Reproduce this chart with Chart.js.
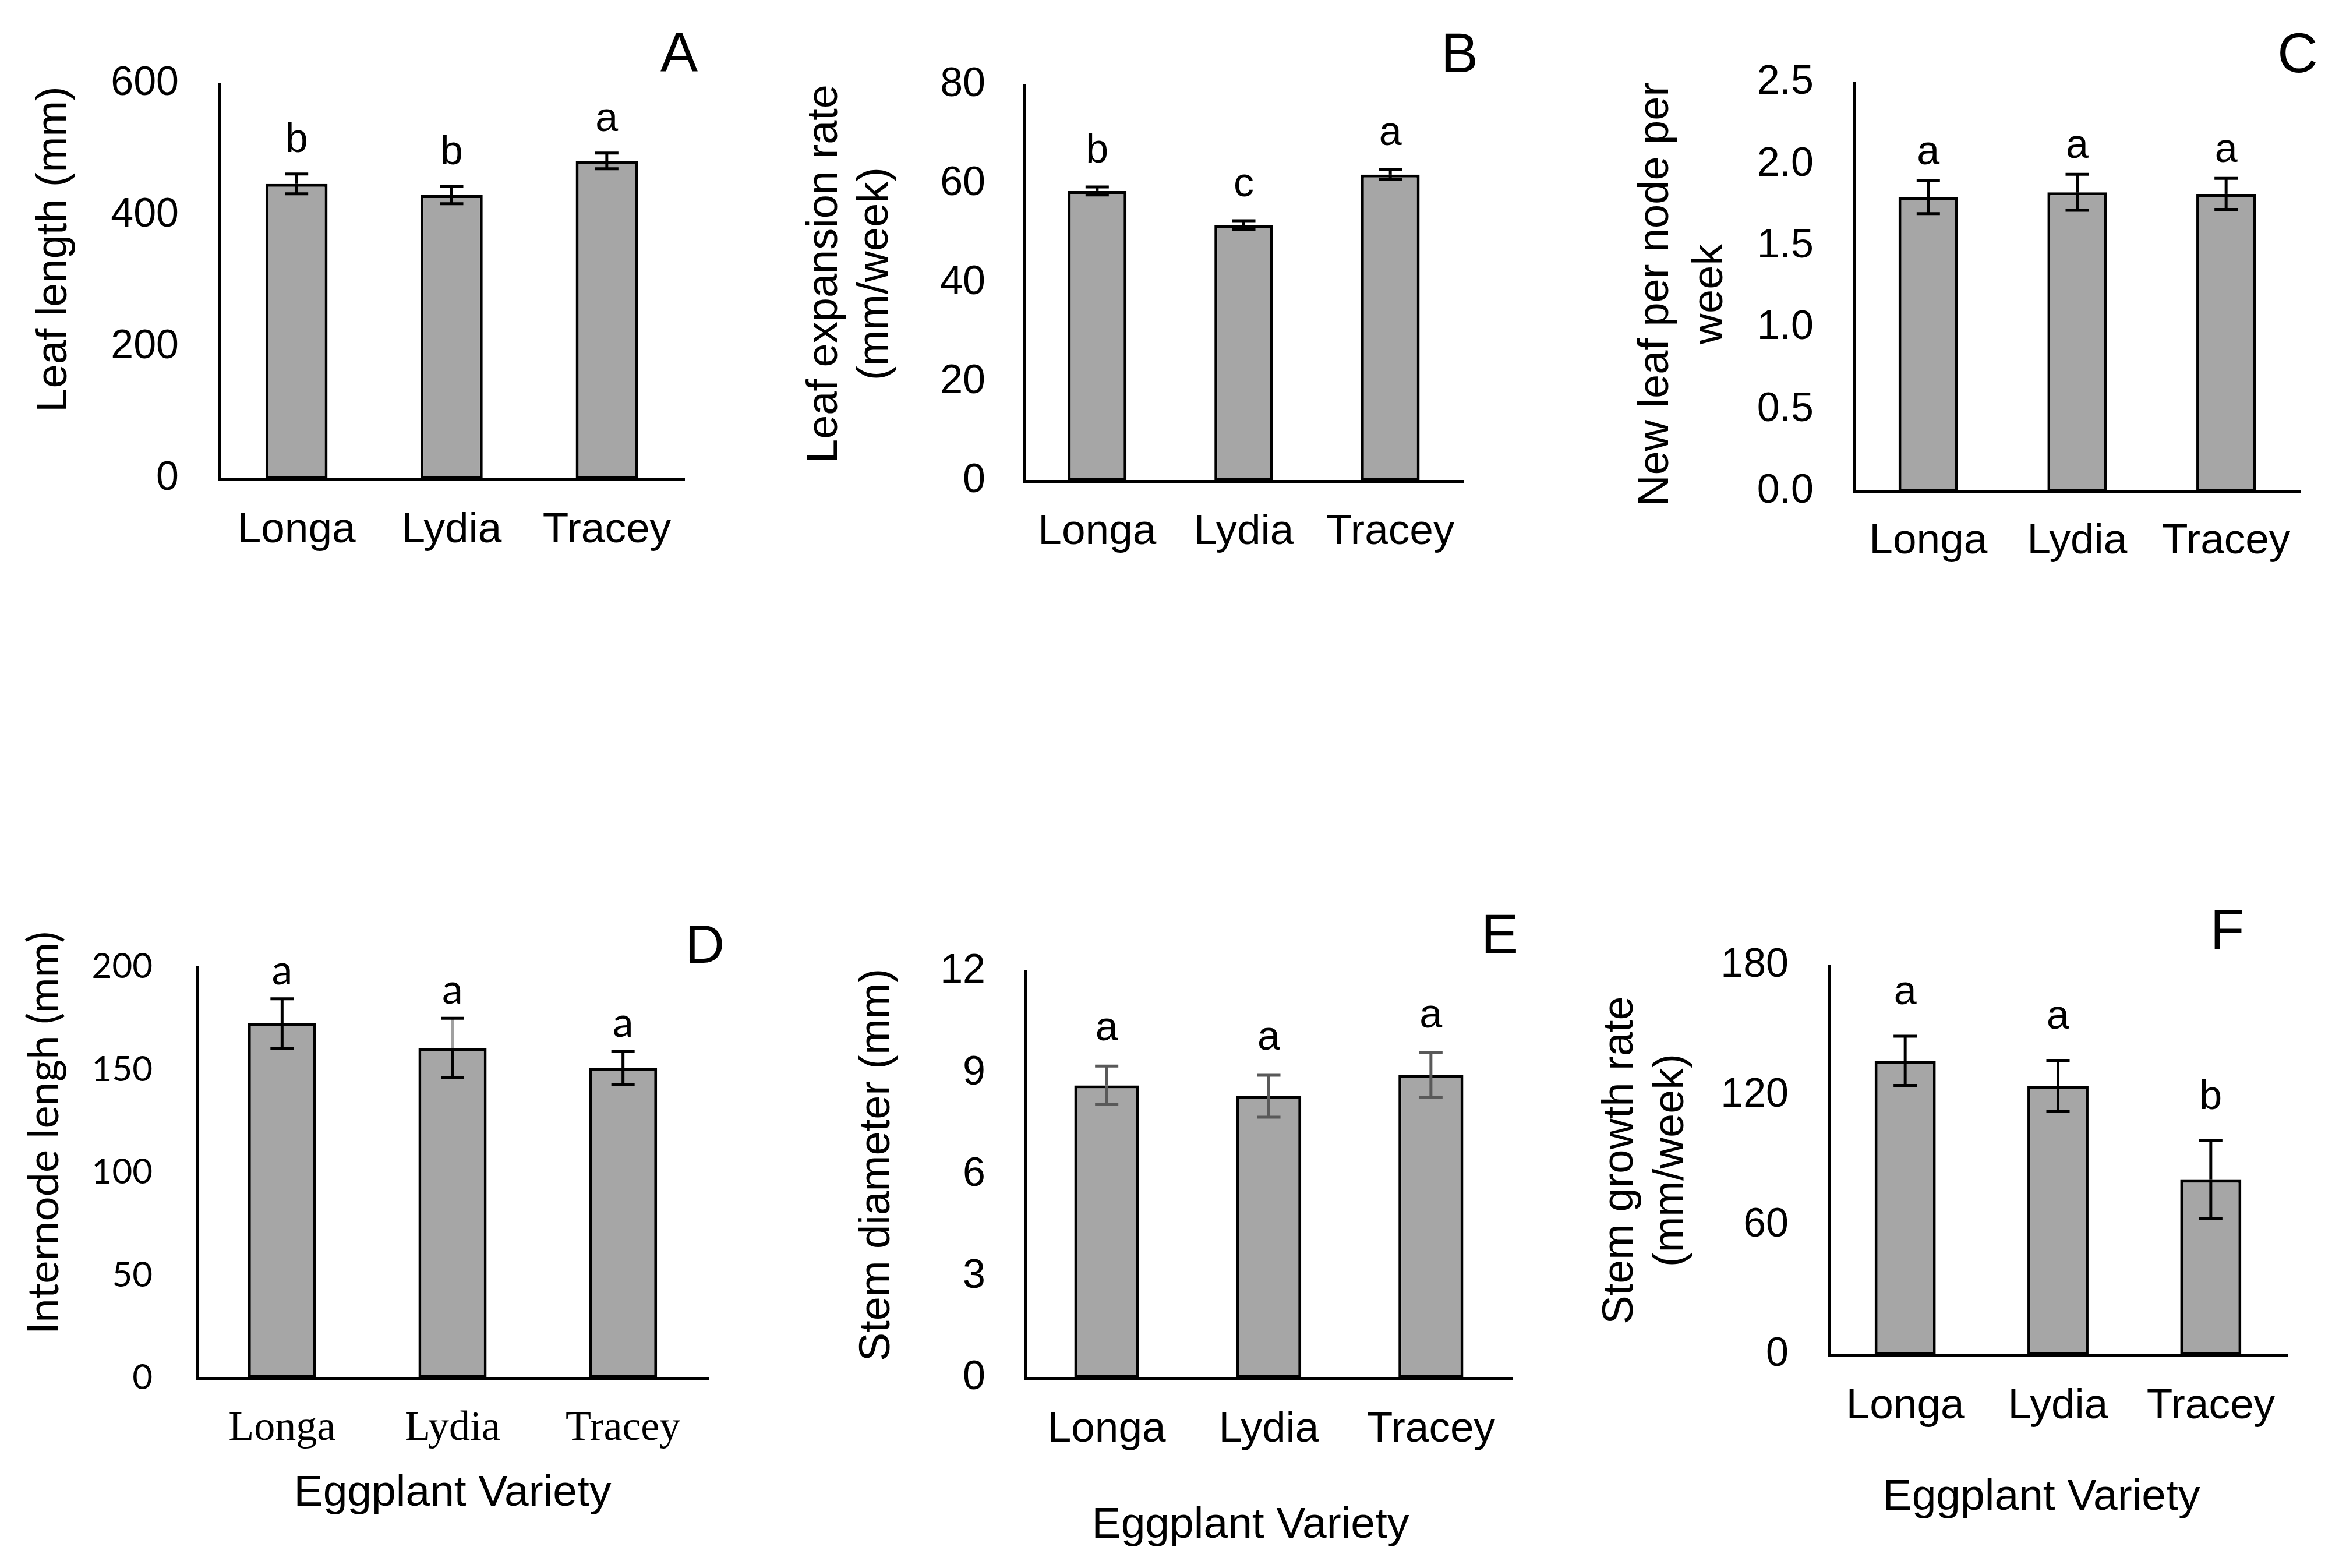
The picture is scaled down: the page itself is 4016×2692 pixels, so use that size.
<!DOCTYPE html>
<html>
<head>
<meta charset="utf-8">
<title>Eggplant variety growth</title>
<script src="https://cdn.jsdelivr.net/npm/chart.js@4"></script>
<style>
    html, body { margin: 0; padding: 0; background: #fff; }
    body { width: 4016px; height: 2692px; position: relative; overflow: hidden; }
    canvas { position: absolute; }
</style>
</head>
<body>
<script>
// ---- data ----
const varieties = ['Longa', 'Lydia', 'Tracey'];

const leafLength = [448, 431, 483];
const leafLengthSE = [15, 13, 12];
const leafLengthGroups = ['b', 'b', 'a'];
const leafLengthTicks = [0, 600, 200];

const leafExpansion = [58.6, 51.7, 61.9];
const leafExpansionSE = [0.8, 0.9, 1.0];
const leafExpansionGroups = ['b', 'c', 'a'];
const leafExpansionTicks = [0, 80, 20];

const newLeaf = [1.80, 1.83, 1.82];
const newLeafSE = [0.10, 0.11, 0.095];
const newLeafGroups = ['a', 'a', 'a'];
const newLeafTicks = [0, 2.5, 0.5];

const internode = [172.5, 160.5, 150.8];
const internodeSE = [12, 14.5, 8];
const internodeGroups = ['a', 'a', 'a'];
const internodeTicks = [0, 200, 50];

const stemDiameter = [8.64, 8.32, 8.94];
const stemDiameterSE = [0.57, 0.62, 0.66];
const stemDiameterGroups = ['a', 'a', 'a'];
const stemDiameterTicks = [0, 12, 3];

const stemGrowth = [136, 124.4, 81];
const stemGrowthSE = [11.4, 11.8, 18];
const stemGrowthGroups = ['a', 'a', 'b'];
const stemGrowthTicks = [0, 180, 60];

// ---- fonts ----
const ARIAL = '"Liberation Sans", Arial, sans-serif';
const LATO = 'Lato, "Liberation Sans", sans-serif';
const TIMES = '"Liberation Serif", "Times New Roman", serif';

const arialFonts = {
    tick: { family: ARIAL, size: 70 },
    cat: { family: ARIAL, size: 73 },
    title: '74px ' + ARIAL,
    sig: '70px ' + ARIAL,
    tag: '96px ' + ARIAL,
    xtitle: '75px ' + ARIAL
};
const mixedFonts = {
    tick: { family: LATO, size: 60 },
    cat: { family: TIMES, size: 72 },
    title: '74px ' + LATO,
    sig: '72px ' + LATO,
    tag: '90px ' + LATO,
    xtitle: '75px ' + ARIAL
};

// ---- panel layout (page pixels) ----
const panels = [
    { tag: 'A', values: leafLength, se: leafLengthSE, groups: leafLengthGroups, ticks: leafLengthTicks, dec: 0,
      plot: { l: 376, t: 144, r: 1175, b: 822 }, title: ['Leaf length (mm)'], titleX: 94, titleY: 428, lineGap: 87,
      tagPos: [1166, 96], tickPad: 69, catPad: 45, gap: 38, errColor: '#000', fonts: arialFonts },
    { tag: 'B', values: leafExpansion, se: leafExpansionSE, groups: leafExpansionGroups, ticks: leafExpansionTicks, dec: 0,
      plot: { l: 1758, t: 146, r: 2513, b: 826 }, title: ['Leaf expansion rate', '(mm/week)'], titleX: 1417, titleY: 470, lineGap: 87,
      tagPos: [2506, 98], tickPad: 66, catPad: 44, gap: 42, errColor: '#000', fonts: arialFonts },
    { tag: 'C', values: newLeaf, se: newLeafSE, groups: newLeafGroups, ticks: newLeafTicks, dec: 1,
      plot: { l: 3183, t: 142, r: 3950, b: 844 }, title: ['New leaf per node per', 'week'], titleX: 2844, titleY: 505, lineGap: 93,
      tagPos: [3945, 98], tickPad: 69, catPad: 42, gap: 28, errColor: '#000', fonts: arialFonts },
    { tag: 'D', values: internode, se: internodeSE, groups: internodeGroups, ticks: internodeTicks, dec: 0,
      plot: { l: 338, t: 1660, r: 1216, b: 2366 }, title: ['Internode lengh (mm)'], titleX: 76, titleY: 1945, lineGap: 87,
      tagPos: [1210, 1624], tickPad: 76, catPad: 44, gap: 25, errColor: '#000', upper: ['#000', '#a0a0a0', '#000'],
      xTitle: [777, 2585], fonts: mixedFonts },
    { tag: 'E', values: stemDiameter, se: stemDiameterSE, groups: stemDiameterGroups, ticks: stemDiameterTicks, dec: 0,
      plot: { l: 1761, t: 1668, r: 2596, b: 2366 }, title: ['Stem diameter (mm)'], titleX: 1507, titleY: 2000, lineGap: 87,
      tagPos: [2575, 1611], tickPad: 69, catPad: 45, gap: 44, errColor: '#595959',
      xTitle: [2147, 2640], fonts: arialFonts },
    { tag: 'F', values: stemGrowth, se: stemGrowthSE, groups: stemGrowthGroups, ticks: stemGrowthTicks, dec: 0,
      plot: { l: 3140, t: 1658, r: 3927, b: 2326 }, title: ['Stem growth rate', '(mm/week)'], titleX: 2783, titleY: 1992, lineGap: 87,
      tagPos: [3824, 1603], tickPad: 69, catPad: 45, gap: 55, errColor: '#000',
      xTitle: [3505, 2592], fonts: arialFonts }
];

// room around each plot area inside its canvas
const L = 430, T = 200, R = 130, B = 320;

// error bars, group letters and panel texts
function overlay(p, ox, oy) {
    return {
        id: 'overlay',
        afterDatasetsDraw(chart) {
            const { ctx, scales: { x, y } } = chart;
            ctx.save();
            ctx.lineWidth = 5;
            p.values.forEach((v, i) => {
                const cx = x.getPixelForValue(i);
                const hi = y.getPixelForValue(v + p.se[i]);
                const mid = y.getPixelForValue(v);
                const lo = y.getPixelForValue(v - p.se[i]);
                ctx.strokeStyle = p.upper ? p.upper[i] : p.errColor;
                ctx.beginPath();
                ctx.moveTo(cx, hi);
                ctx.lineTo(cx, mid);
                ctx.stroke();
                ctx.strokeStyle = p.errColor;
                ctx.beginPath();
                ctx.moveTo(cx, mid);
                ctx.lineTo(cx, lo);
                ctx.moveTo(cx - 20, hi);
                ctx.lineTo(cx + 20, hi);
                ctx.moveTo(cx - 20, lo);
                ctx.lineTo(cx + 20, lo);
                ctx.stroke();

                ctx.fillStyle = '#000';
                ctx.font = p.fonts.sig;
                ctx.textAlign = 'center';
                ctx.textBaseline = 'alphabetic';
                ctx.fillText(p.groups[i], cx, hi - p.gap);
            });

            ctx.fillStyle = '#000';
            ctx.textAlign = 'center';
            ctx.textBaseline = 'middle';
            ctx.font = p.fonts.tag;
            ctx.fillText(p.tag, p.tagPos[0] - ox, p.tagPos[1] - oy);

            ctx.font = p.fonts.title;
            p.title.forEach((line, i) => {
                ctx.save();
                ctx.translate(p.titleX + i * p.lineGap - ox, p.titleY - oy);
                ctx.rotate(-Math.PI / 2);
                ctx.fillText(line, 0, 0);
                ctx.restore();
            });

            if (p.xTitle) {
                ctx.font = p.fonts.xtitle;
                ctx.textBaseline = 'alphabetic';
                ctx.fillText('Eggplant Variety', p.xTitle[0] - ox, p.xTitle[1] - oy);
            }
            ctx.restore();
        }
    };
}

function drawPanel(p) {
    const w = L + (p.plot.r - p.plot.l) + R;
    const h = T + (p.plot.b - p.plot.t) + B;
    const ox = p.plot.l - L;
    const oy = p.plot.t - T;

    const canvas = document.createElement('canvas');
    canvas.width = w;
    canvas.height = h;
    canvas.style.left = ox + 'px';
    canvas.style.top = oy + 'px';
    canvas.style.width = w + 'px';
    canvas.style.height = h + 'px';
    document.body.appendChild(canvas);

    new Chart(canvas, {
        type: 'bar',
        data: {
            labels: varieties,
            datasets: [{
                data: p.values,
                backgroundColor: '#a6a6a6',
                borderColor: '#000',
                borderWidth: 5,
                borderSkipped: false,
                barPercentage: 0.4,
                categoryPercentage: 1.0
            }]
        },
        options: {
            responsive: false,
            animation: false,
            events: [],
            layout: { padding: { left: 0, top: T, right: R, bottom: 0 } },
            plugins: {
                legend: { display: false },
                tooltip: { enabled: false }
            },
            scales: {
                x: {
                    grid: { display: false, drawTicks: false },
                    border: { display: true, color: '#000', width: 5 },
                    ticks: { color: '#000', font: p.fonts.cat, padding: p.catPad, maxRotation: 0 },
                    afterFit: s => { s.height = B; }
                },
                y: {
                    min: p.ticks[0],
                    max: p.ticks[1],
                    grid: { display: false, drawTicks: false },
                    border: { display: true, color: '#000', width: 5 },
                    ticks: {
                        stepSize: p.ticks[2],
                        color: '#000',
                        font: p.fonts.tick,
                        padding: p.tickPad,
                        callback: v => Number(v).toFixed(p.dec)
                    },
                    afterFit: s => { s.width = L; }
                }
            }
        },
        plugins: [overlay(p, ox, oy)]
    });
}

Promise.all([
    document.fonts.load('70px "Liberation Sans"'),
    document.fonts.load('70px Lato'),
    document.fonts.load('70px "Liberation Serif"')
]).catch(() => {}).then(() => panels.forEach(drawPanel));
</script>
</body>
</html>
